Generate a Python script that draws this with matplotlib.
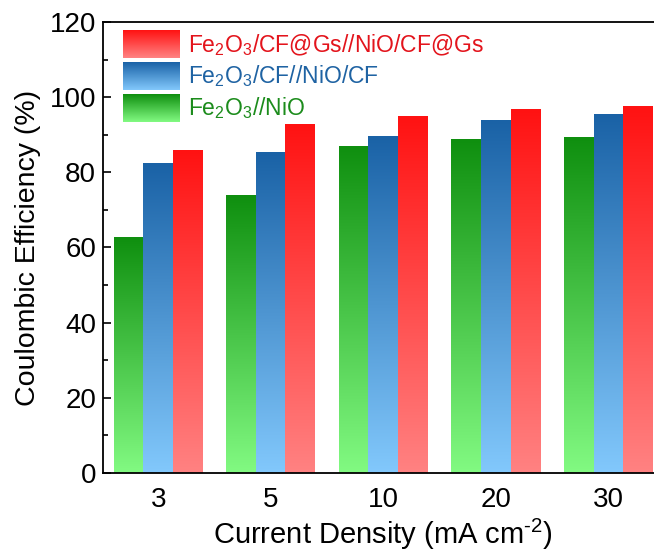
import numpy as np
import matplotlib
matplotlib.use("Agg")
import matplotlib.pyplot as plt
from matplotlib.colors import to_rgb

plt.rcParams['font.family'] = ['Liberation Sans', 'DejaVu Sans']
plt.rcParams['mathtext.fontset'] = 'custom'
plt.rcParams['mathtext.rm'] = 'Liberation Sans'
plt.rcParams['mathtext.default'] = 'regular'

categories = ["3", "5", "10", "20", "30"]
green_vals = [62.6, 73.7, 87.0, 88.8, 89.3]   # Fe2O3//NiO
blue_vals = [82.4, 85.3, 89.4, 93.9, 95.5]    # Fe2O3/CF//NiO/CF
red_vals = [85.7, 92.6, 94.8, 96.8, 97.4]     # Fe2O3/CF@Gs//NiO/CF@Gs

labels = [r"Fe$_2$O$_3$/CF@Gs//NiO/CF@Gs",
          r"Fe$_2$O$_3$/CF//NiO/CF",
          r"Fe$_2$O$_3$//NiO"]

# (top colour, bottom colour, text colour)
RED = ("#ff1212", "#ff8282", "#e3141c")
BLUE = ("#1a62a6", "#82c8fc", "#1f63a3")
GREEN = ("#0f8f0f", "#82fa82", "#1c8c1c")

W = 0.263


def gradient(top, bottom, n=256):
    t = np.linspace(0, 1, n)[:, None, None]
    return np.array(to_rgb(bottom)) * (1 - t) + np.array(to_rgb(top)) * t


fig = plt.figure(figsize=(6.54, 5.53), dpi=100)
ax = fig.add_axes([0.1575, 0.1447, 0.857, 0.8156])

x = np.arange(len(categories))
for vals, off, col in [(green_vals, -W, GREEN), (blue_vals, 0, BLUE), (red_vals, W, RED)]:
    bars = ax.bar(x + off, vals, W, color="none", edgecolor="none")
    for b in bars:
        x0, w, h = b.get_x(), b.get_width(), b.get_height()
        ax.imshow(gradient(col[0], col[1]), extent=[x0, x0 + w, 0, h],
                  origin="lower", aspect="auto", zorder=2, interpolation="bilinear")

# legend drawn by hand so the swatches can carry the gradient
rows = [(0.949, RED, labels[0]), (0.879, BLUE, labels[1]), (0.809, GREEN, labels[2])]
for yc, col, lab in rows:
    ax.imshow(gradient(col[0], col[1]), extent=[0.036, 0.1375, yc - 0.03, yc + 0.03],
              origin="lower", aspect="auto", transform=ax.transAxes, zorder=3)
    ax.text(0.152, yc, lab, color=col[2], fontsize=16.5, va="center", ha="left",
            transform=ax.transAxes, zorder=3)

ax.set_xlim(-0.49, 4.49)
ax.set_ylim(0, 120)
ax.set_xticks(x)
ax.set_xticklabels(categories)
ax.set_yticks(np.arange(0, 121, 20))
ax.set_yticks(np.arange(10, 120, 20), minor=True)
ax.tick_params(axis="both", which="major", direction="in", length=6, width=1.2,
               labelsize=20, pad=5)
ax.tick_params(axis="x", which="major", pad=10)
ax.tick_params(axis="y", which="minor", direction="in", length=3.5, width=1.2)
ax.tick_params(top=False, right=False)
for s in ax.spines.values():
    s.set_linewidth(1.3)

ax.set_xlabel(r"Current Density (mA cm$^{\text{-}2}$)", fontsize=21, labelpad=3)
ax.set_ylabel("Coulombic Efficiency (%)", fontsize=20.5, labelpad=6)

fig.savefig("out.png", dpi=100)
